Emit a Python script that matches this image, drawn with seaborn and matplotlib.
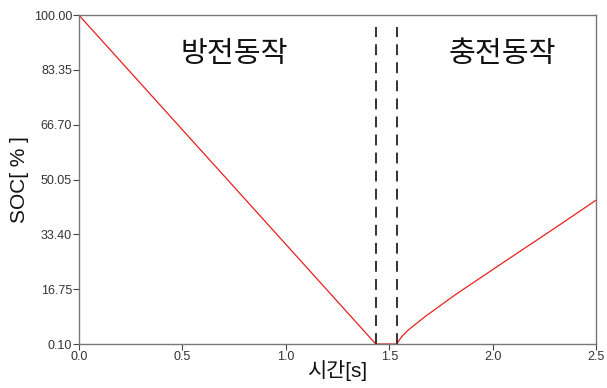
import matplotlib
matplotlib.use("Agg")
import matplotlib.pyplot as plt
import seaborn as sns
import pandas as pd

# SOC trace: discharge, idle, then charge
time_s = [0.0, 0.5, 1.0, 1.435, 1.536, 1.560, 1.592, 1.673, 1.818, 2.05, 2.31, 2.50]
soc_pct = [100.0, 65.2, 30.4, 0.1, 0.1, 2.3, 4.35, 8.4, 15.0, 24.8, 35.7, 43.8]

# Boundaries of the idle interval
boundaries = [1.435, 1.536]

yticks = [0.10, 16.75, 33.40, 50.05, 66.70, 83.35, 100.00]
xticks = [0.0, 0.5, 1.0, 1.5, 2.0, 2.5]

phase_labels = ["방전동작", "충전동작"]
phase_x = [0.75, 2.048]

sns.set_theme(style="white")
plt.rcParams["font.family"] = ["Liberation Sans", "Noto Sans CJK KR", "DejaVu Sans"]

df = pd.DataFrame({"time": time_s, "soc": soc_pct})

fig = plt.figure(figsize=(6.07, 3.88), dpi=100)
ax = fig.add_axes([0.130, 0.1134, 0.852, 0.8476])

sns.lineplot(data=df, x="time", y="soc", ax=ax, color="#e8201c", linewidth=0.9)

for b in boundaries:
    ax.vlines(b, 0.1, 96.5, colors="#222222", linestyles=(0, (6, 4)), linewidth=1.3)

for lbl, xp in zip(phase_labels, phase_x):
    ax.text(xp, 88.2, lbl, ha="center", va="center", fontsize=21,
            family=["Noto Sans CJK KR", "DejaVu Sans"], color="#111111")

ax.set_xlim(0, 2.5)
ax.set_ylim(0.1, 100)
ax.set_xticks(xticks)
ax.set_xticklabels([f"{v:.1f}" for v in xticks])
ax.set_yticks(yticks)
ax.set_yticklabels([f"{v:.2f}" for v in yticks])
ax.tick_params(axis="both", which="both", direction="out", length=4, width=0.8,
               labelsize=9, colors="#444444", pad=1, bottom=True, left=True)
ax.tick_params(axis="both", labelcolor="#333333")

for s in ax.spines.values():
    s.set_color("#777777")
    s.set_linewidth(1.0)

ax.set_xlabel("시간[s]", fontsize=15,
              family=["Liberation Sans", "Noto Sans CJK KR", "DejaVu Sans"],
              labelpad=-2, color="#111111")
ax.set_ylabel("SOC[ % ]", fontsize=15,
              family=["Liberation Sans", "Noto Sans CJK KR", "DejaVu Sans"],
              labelpad=3, color="#111111")

fig.savefig("out.png", dpi=100)
